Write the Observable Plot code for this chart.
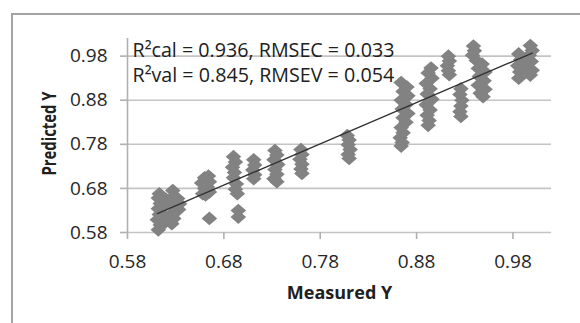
<!DOCTYPE html>
<html>
<head>
<meta charset="utf-8">
<script src="https://cdn.jsdelivr.net/npm/d3@7"></script>
<script src="https://cdn.jsdelivr.net/npm/@observablehq/plot@0.6"></script>
<style>
  html, body { margin: 0; padding: 0; background: #fff; }
  #wrap { position: relative; width: 580px; height: 323px; overflow: hidden; background: #fff; }
  #frame { position: absolute; left: 11px; top: 13px; width: 700px; height: 500px; border: 2px solid #a3a3a3; }
  #wrap svg { position: absolute; left: 0; top: 0; }
</style>
</head>
<body>
<div id="wrap"><div id="frame"></div></div>
<script>
// Tick values
const xTicks = [0.58, 0.68, 0.78, 0.88, 0.98];
const yTicks = [0.58, 0.68, 0.78, 0.88, 0.98];

// Measured (x) and predicted (y) values
const measuredY = [
  0.612,0.614,0.611,0.613,0.612,0.614,0.612,0.613,
  0.619,0.620,0.618,0.620,
  0.626,0.628,0.627,0.629,0.626,0.628,0.627,0.633,0.634,0.632,
  0.658,0.660,0.657,0.660,0.664,0.665,0.663,0.665,0.661,
  0.665,
  0.690,0.692,0.689,0.691,0.690,0.693,0.692,0.694,0.695,0.695,
  0.711,0.712,0.710,0.712,0.711,
  0.733,0.735,0.732,0.736,0.733,0.735,0.732,0.735,
  0.760,0.761,0.759,0.761,0.760,0.761,
  0.808,0.810,0.809,0.811,0.809,0.810,
  0.864,0.870,0.866,0.871,0.864,0.869,0.865,0.871,0.866,0.869,0.864,0.866,0.863,0.865,0.864,
  0.895,0.892,0.896,0.890,0.894,0.891,0.896,0.890,0.894,0.891,0.893,0.892,
  0.913,0.914,0.912,0.913,0.914,
  0.926,0.925,0.927,0.926,0.925,0.926,
  0.939,0.940,0.938,0.942,0.948,0.944,0.951,0.945,0.950,0.944,0.951,0.946,0.949,
  0.986,0.988,0.985,0.987,0.986,0.998,1.000,0.997,0.999,1.000,0.998,0.993
];
const predictedY = [
  0.586,0.597,0.609,0.621,0.634,0.646,0.658,0.668,
  0.603,0.615,0.640,0.655,
  0.600,0.612,0.625,0.638,0.650,0.662,0.675,0.632,0.645,0.657,
  0.668,0.680,0.692,0.704,0.708,0.695,0.683,0.672,0.665,
  0.612,
  0.752,0.740,0.728,0.716,0.704,0.690,0.678,0.668,0.630,0.615,
  0.745,0.733,0.722,0.711,0.702,
  0.766,0.756,0.745,0.734,0.723,0.712,0.702,0.695,
  0.768,0.757,0.746,0.735,0.724,0.714,
  0.800,0.790,0.779,0.768,0.757,0.748,
  0.920,0.910,0.900,0.890,0.880,0.870,0.860,0.850,0.840,0.830,0.818,0.806,0.795,0.784,0.776,
  0.953,0.942,0.930,0.918,0.906,0.894,0.882,0.870,0.858,0.846,0.834,0.823,
  0.980,0.969,0.958,0.947,0.938,
  0.906,0.893,0.880,0.867,0.854,0.843,
  1.003,0.992,0.982,0.970,0.962,0.952,0.944,0.934,0.924,0.914,0.905,0.896,0.888,
  0.985,0.972,0.958,0.944,0.930,1.004,0.993,0.982,0.968,0.948,0.937,0.960
];

// Fitted line end points
const fitX = [0.611, 1.0];
const fitY = [0.623, 0.987];

const statLines = ["R\u00B2cal = 0.936, RMSEC = 0.033", "R\u00B2val = 0.845, RMSEV = 0.054"];
const xTitle = "Measured Y";
const yTitle = "Predicted Y";

const points = measuredY.map((m, i) => ({m, p: predictedY[i]}));
const fit = fitX.map((x, i) => ({x, y: fitY[i]}));
const fmt = d3.format(".2f");

// Excel-like diamond marker, slightly wider than tall
const diamond = {
  draw(ctx, size) {
    const r = Math.sqrt(size / Math.PI);
    ctx.moveTo(0, -r * 1.05);
    ctx.lineTo(r * 1.2, 0);
    ctx.lineTo(0, r * 1.05);
    ctx.lineTo(-r * 1.2, 0);
    ctx.closePath();
  }
};

const chart = Plot.plot({
  width: 580,
  height: 323,
  marginLeft: 127,
  marginRight: 29,
  marginTop: 38,
  marginBottom: 91,
  style: {fontFamily: "'Open Sans', sans-serif", fontSize: "19px", color: "#303030", background: "transparent", overflow: "visible"},
  x: {domain: [0.58, 1.02], label: null},
  y: {domain: [0.58, 1.02], label: null},
  marks: [
    Plot.gridY(yTicks, {stroke: "#c4c4c4", strokeOpacity: 1, strokeWidth: 1.6}),
    Plot.ruleX([0.58], {stroke: "#b0b0b0", strokeWidth: 1.6}),
    Plot.axisX(xTicks, {tickSize: 7, tickPadding: 15, tickFormat: fmt, stroke: "#b0b0b0", strokeWidth: 1.6, fill: "#262626", label: null}),
    Plot.axisY(yTicks, {tickSize: 7, tickPadding: 13, tickFormat: fmt, stroke: "#b0b0b0", strokeWidth: 1.6, fill: "#262626", label: null}),
    Plot.dot(points, {x: "m", y: "p", symbol: diamond, r: 6.5, fill: "#828282", stroke: "none"}),
    Plot.line(fit, {x: "x", y: "y", stroke: "#333333", strokeWidth: 1.4}),
    Plot.text([statLines.join("\n")], {text: d => d, frameAnchor: "top-left", textAnchor: "start", lineAnchor: "top", lineHeight: 1.3, dx: 5, fill: "#202020", fontSize: 19.7}),
    Plot.text([yTitle], {text: d => d, frameAnchor: "left", textAnchor: "middle", lineAnchor: "middle", rotate: -90, dx: -78, dy: -2, fontWeight: "bold", fontSize: 19, fill: "#202020"}),
    Plot.text([xTitle], {text: d => d, frameAnchor: "bottom", textAnchor: "middle", lineAnchor: "middle", dy: 61, fontWeight: "bold", fontSize: 18, fill: "#202020"})
  ]
});
document.getElementById("wrap").appendChild(chart);

// Condense the rotated title to the reference's length
d3.select(chart).selectAll("text").filter(function() { return this.textContent === yTitle; })
  .attr("textLength", 84).attr("lengthAdjust", "spacingAndGlyphs");
</script>
</body>
</html>
